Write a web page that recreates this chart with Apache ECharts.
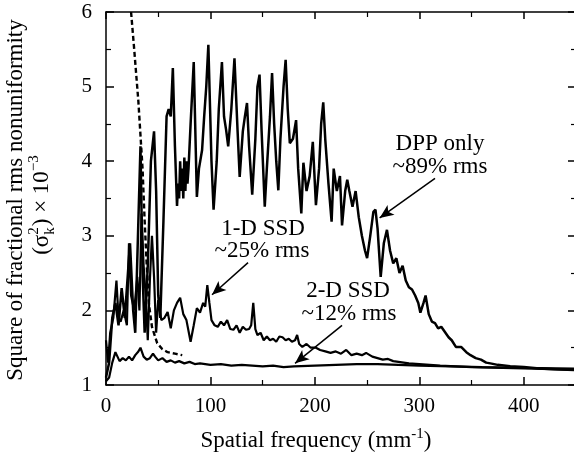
<!DOCTYPE html>
<html>
<head>
	<meta http-equiv="Content-Type" content="text/html; charset=utf-8" />
	<title>Spatial frequency spectrum</title>
	<script src="https://cdn.jsdelivr.net/npm/echarts@6/dist/echarts.min.js"></script>
	<style>
		html, body { margin: 0; padding: 0; background: #fff; }
		#main { width: 574px; height: 459px; }
	</style>
</head>
<body>
	<div id="main"></div>
	<script type="text/javascript">
		// values
		var xTicks = [0, 100, 200, 300, 400];
		var yTicks = [1, 2, 3, 4, 5, 6];

		var dppX = [0, 3, 6, 9, 12, 15, 18, 21, 23, 26, 28, 31, 33, 35, 37, 40, 43, 46, 48, 50, 52, 55, 58, 60, 62, 64, 66, 68, 69, 70, 71, 72, 73, 74, 75, 76, 77, 78, 79, 81, 84, 87, 89, 92, 94, 96, 98, 101, 103, 106, 108, 111, 113, 115, 117, 120, 123, 126, 128, 131, 133, 135, 137, 140, 143, 145, 147, 149, 152, 154, 157, 159, 161, 163, 165, 167, 170, 172, 174, 176, 179, 182, 184, 187, 189, 192, 195, 198, 201, 204, 206, 208, 210, 213, 216, 218, 221, 224, 226, 229, 231, 233, 236, 239, 242, 245, 248, 250, 253, 256, 258, 260, 263, 266, 269, 272, 275, 278, 281, 284, 287, 290, 293, 296, 299, 301, 304, 306, 309, 312, 315, 318, 321, 324, 328, 331, 335, 340, 345, 349, 354, 359, 364, 368, 375, 387, 400, 415, 430, 450];
		var dppY = [1.1, 1.3, 1.9, 2.1, 1.8, 2.3, 1.9, 2.5, 2.9, 2.0, 1.7, 3.2, 4.2, 2.5, 1.7, 2.6, 4.0, 4.4, 3.6, 2.2, 1.9, 3.2, 4.6, 4.7, 4.6, 5.25, 4.2, 3.4, 3.7, 3.5, 4.0, 3.6, 3.9, 3.5, 4.05, 3.6, 4.0, 3.7, 3.9, 4.5, 5.33, 3.52, 3.9, 4.15, 4.6, 5.0, 5.56, 4.0, 3.35, 4.0, 4.7, 5.33, 4.6, 4.42, 4.2, 4.7, 5.38, 4.4, 3.79, 4.4, 4.6, 4.78, 4.2, 3.55, 4.3, 5.0, 5.16, 4.4, 3.39, 3.9, 4.6, 5.18, 4.5, 4.0, 3.61, 4.3, 5.0, 5.36, 4.7, 4.24, 4.3, 4.55, 3.9, 3.3, 3.98, 3.6, 3.8, 4.26, 3.41, 3.9, 4.5, 4.79, 4.28, 3.7, 3.19, 3.9, 3.6, 3.8, 3.14, 3.6, 3.75, 3.6, 3.39, 3.6, 3.25, 3.0, 2.8, 2.7, 3.0, 3.32, 3.35, 3.1, 2.45, 2.9, 3.08, 2.8, 2.63, 2.7, 2.5, 2.6, 2.4, 2.31, 2.28, 2.2, 2.1, 1.97, 2.1, 2.2, 1.95, 1.85, 1.83, 1.76, 1.78, 1.72, 1.64, 1.6, 1.51, 1.51, 1.44, 1.4, 1.36, 1.34, 1.3, 1.29, 1.27, 1.25, 1.24, 1.22, 1.21, 1.2];

		var ssd1X = [0, 2, 4, 7, 10, 12, 14, 17, 20, 22, 24, 27, 30, 32, 34, 36, 38, 40, 42, 44, 46, 48, 50, 53, 56, 59, 62, 65, 68, 71, 74, 77, 81, 84, 87, 90, 93, 95, 97, 99, 101, 104, 107, 110, 113, 116, 119, 122, 125, 128, 131, 134, 137, 139, 141, 143, 145, 148, 151, 154, 157, 160, 163, 166, 169, 172, 175, 178, 181, 183, 185, 188, 192, 196, 201, 205, 210, 215, 220, 225, 230, 235, 240, 245, 249, 255, 260, 265, 270, 275, 280, 290, 300, 310, 320, 335, 350, 380, 410, 450];
		var ssd1Y = [1.6, 1.3, 1.7, 1.9, 2.4, 1.9, 1.85, 2.0, 1.8, 2.9, 2.2, 2.0, 2.45, 2.0, 3.3, 2.6, 2.2, 1.6, 2.4, 3.0, 2.45, 1.7, 2.14, 1.87, 1.9, 1.98, 1.76, 2.0, 2.1, 2.17, 1.95, 1.87, 1.58, 1.8, 2.03, 1.97, 2.1, 2.05, 2.34, 2.1, 1.87, 1.8, 1.78, 1.85, 1.8, 1.87, 1.75, 1.74, 1.8, 1.7, 1.78, 1.74, 1.75, 1.8, 2.1, 1.75, 1.67, 1.7, 1.6, 1.65, 1.6, 1.62, 1.58, 1.65, 1.64, 1.6, 1.62, 1.58, 1.6, 1.67, 1.55, 1.51, 1.55, 1.5, 1.5, 1.47, 1.45, 1.43, 1.45, 1.42, 1.47, 1.4, 1.42, 1.4, 1.43, 1.38, 1.36, 1.34, 1.35, 1.32, 1.31, 1.29, 1.28, 1.27, 1.26, 1.25, 1.24, 1.23, 1.22, 1.2];

		var ssd2X = [0, 3, 6, 9, 11, 13, 16, 19, 22, 25, 28, 31, 33, 36, 39, 42, 45, 47, 50, 54, 58, 62, 66, 70, 75, 80, 85, 90, 100, 110, 120, 130, 140, 150, 160, 170, 180, 200, 220, 240, 260, 280, 300, 330, 360, 400, 450];
		var ssd2Y = [1.05, 1.1, 1.3, 1.44, 1.38, 1.32, 1.36, 1.33, 1.38, 1.33, 1.4, 1.45, 1.5, 1.38, 1.34, 1.36, 1.42, 1.38, 1.33, 1.36, 1.31, 1.33, 1.3, 1.32, 1.29, 1.31, 1.28, 1.29, 1.27, 1.28, 1.26, 1.27, 1.26, 1.25, 1.26, 1.24, 1.25, 1.26, 1.27, 1.28, 1.28, 1.27, 1.26, 1.25, 1.24, 1.23, 1.22];

		var dashX = [24, 27, 31, 35, 37, 39, 41, 44, 49, 54, 59, 66, 73];
		var dashY = [6.0, 5.5, 4.8, 3.9, 3.2, 2.6, 2.1, 1.78, 1.56, 1.48, 1.44, 1.42, 1.40];

		// arrows: [fromX, fromY, toX, toY] in data units
		var arrowDpp = [315, 3.77, 262, 3.24];
		var arrowSsd1 = [136, 2.64, 101.5, 2.21];
		var arrowSsd2 = [226, 1.80, 181, 1.29];

		function pairs(xs, ys) {
			return xs.map(function (x, i) { return [x, ys[i]]; });
		}

		var FONT = '"Liberation Serif", "Times New Roman", serif';
		var INK = '#000';
		var ctx = document.createElement('canvas').getContext('2d');
		function tw(s, size) {
			ctx.font = size + 'px ' + FONT;
			return ctx.measureText(s).width;
		}
		function txt(x, y, s, size, align) {
			return {
				type: 'text', x: x, y: y,
				style: { text: s, font: size + 'px ' + FONT, fill: INK, textAlign: align || 'center', textVerticalAlign: 'middle' }
			};
		}
		function arrow(a) {
			return {
				silent: true,
				symbol: ['none', 'arrow'],
				symbolSize: [9, 14],
				label: { show: false },
				lineStyle: { color: INK, width: 1.5, type: 'solid' },
				data: [[{ coord: [a[0], a[1]] }, { coord: [a[2], a[3]] }]]
			};
		}
		// the ticks every axis shares: inward, major plus one minor
		function ticks(len) {
			return {
				axisTick: { show: true, inside: true, length: len, lineStyle: { color: INK, width: 1.5 } },
				minorTick: { show: true, splitNumber: 2, length: 5, lineStyle: { color: INK, width: 1.2 } }
			};
		}

		// y-axis name, second line with stacked sup/sub
		var M = 23, S = 15;
		var wA = tw('(\u03c3', M), wB = Math.max(tw('2', S), tw('k', S)) + 1;
		var wC = tw(') \u00d7 10', M), wD = tw('\u22123', S);
		var x0 = -(wA + wB + wC + wD) / 2;
		var yName2 = {
			type: 'group', x: 42, y: 205, rotation: Math.PI / 2,
			children: [
				txt(x0, 0, '(\u03c3', M, 'left'),
				txt(x0 + wA, -8, '2', S, 'left'),
				txt(x0 + wA, 8, 'k', S, 'left'),
				txt(x0 + wA + wB, 0, ') \u00d7 10', M, 'left'),
				txt(x0 + wA + wB + wC, -8, '\u22123', S, 'left')
			]
		};
		var wE = tw('Spatial frequency (mm', M), wF = tw('-1', S), wG = tw(')', M);
		var x1 = 316 - (wE + wF + wG) / 2;

		var myChart = echarts.init(document.getElementById('main'));
		myChart.setOption({
			backgroundColor: '#fff',
			animation: false,
			grid: { left: 106, right: -2, top: 12, bottom: 74, outerBoundsMode: 'none', containLabel: false },
			xAxis: [Object.assign({
				type: 'value', min: 0, max: 450, interval: 100,
				axisLine: { lineStyle: { color: INK, width: 1.5 } },
				splitLine: { show: false },
				axisLabel: {
					color: INK, fontFamily: FONT, fontSize: 21, margin: 11,
					formatter: function (v) { return xTicks.indexOf(v) >= 0 ? String(v) : ''; }
				}
			}, ticks(8)), Object.assign({
				type: 'value', position: 'top', min: 0, max: 450, interval: 100,
				axisLine: { onZero: false, lineStyle: { color: INK, width: 1.5 } },
				splitLine: { show: false },
				axisLabel: { show: false }
			}, ticks(7))],
			yAxis: [Object.assign({
				type: 'value', min: 1, max: 6, interval: 1,
				axisLine: { show: true, onZero: false, lineStyle: { color: INK, width: 1.5 } },
				splitLine: { show: false },
				axisLabel: {
					color: INK, fontFamily: FONT, fontSize: 21, margin: 14,
					formatter: function (v) { return yTicks.indexOf(v) >= 0 ? String(v) : ''; }
				}
			}, ticks(8)), Object.assign({
				type: 'value', position: 'right', min: 1, max: 6, interval: 1,
				axisLine: { show: true, onZero: false, lineStyle: { color: INK, width: 1.5 } },
				splitLine: { show: false },
				axisLabel: { show: false }
			}, ticks(8))],
			series: [{
				name: 'DPP only', type: 'line', data: pairs(dppX, dppY),
				showSymbol: false, clip: true,
				lineStyle: { color: INK, width: 2.5 },
				markLine: arrow(arrowDpp)
			}, {
				name: '1-D SSD', type: 'line', data: pairs(ssd1X, ssd1Y),
				showSymbol: false, clip: true,
				lineStyle: { color: INK, width: 2.2 },
				markLine: arrow(arrowSsd1)
			}, {
				name: '2-D SSD', type: 'line', data: pairs(ssd2X, ssd2Y),
				showSymbol: false, clip: true,
				lineStyle: { color: INK, width: 2.2 },
				markLine: arrow(arrowSsd2)
			}, {
				name: 'dashed', type: 'line', data: pairs(dashX, dashY),
				showSymbol: false, clip: true,
				lineStyle: { color: INK, width: 2.4, type: [5, 3] }
			}],
			graphic: [
				{
					type: 'group', x: 16, y: 200, rotation: Math.PI / 2,
					children: [txt(0, 0, 'Square of fractional rms nonuniformity', M)]
				},
				yName2,
				txt(x1, 441, 'Spatial frequency (mm', M, 'left'),
				txt(x1 + wE, 434, '-1', S, 'left'),
				txt(x1 + wE + wF, 441, ')', M, 'left'),
				txt(440, 144, 'DPP only', M),
				txt(440, 167, '~89% rms', M),
				txt(263, 229, '1-D SSD', M),
				txt(262, 251, '~25% rms', M),
				txt(348, 291, '2-D SSD', M),
				txt(349, 314, '~12% rms', M)
			]
		});
	</script>
</body>
</html>
